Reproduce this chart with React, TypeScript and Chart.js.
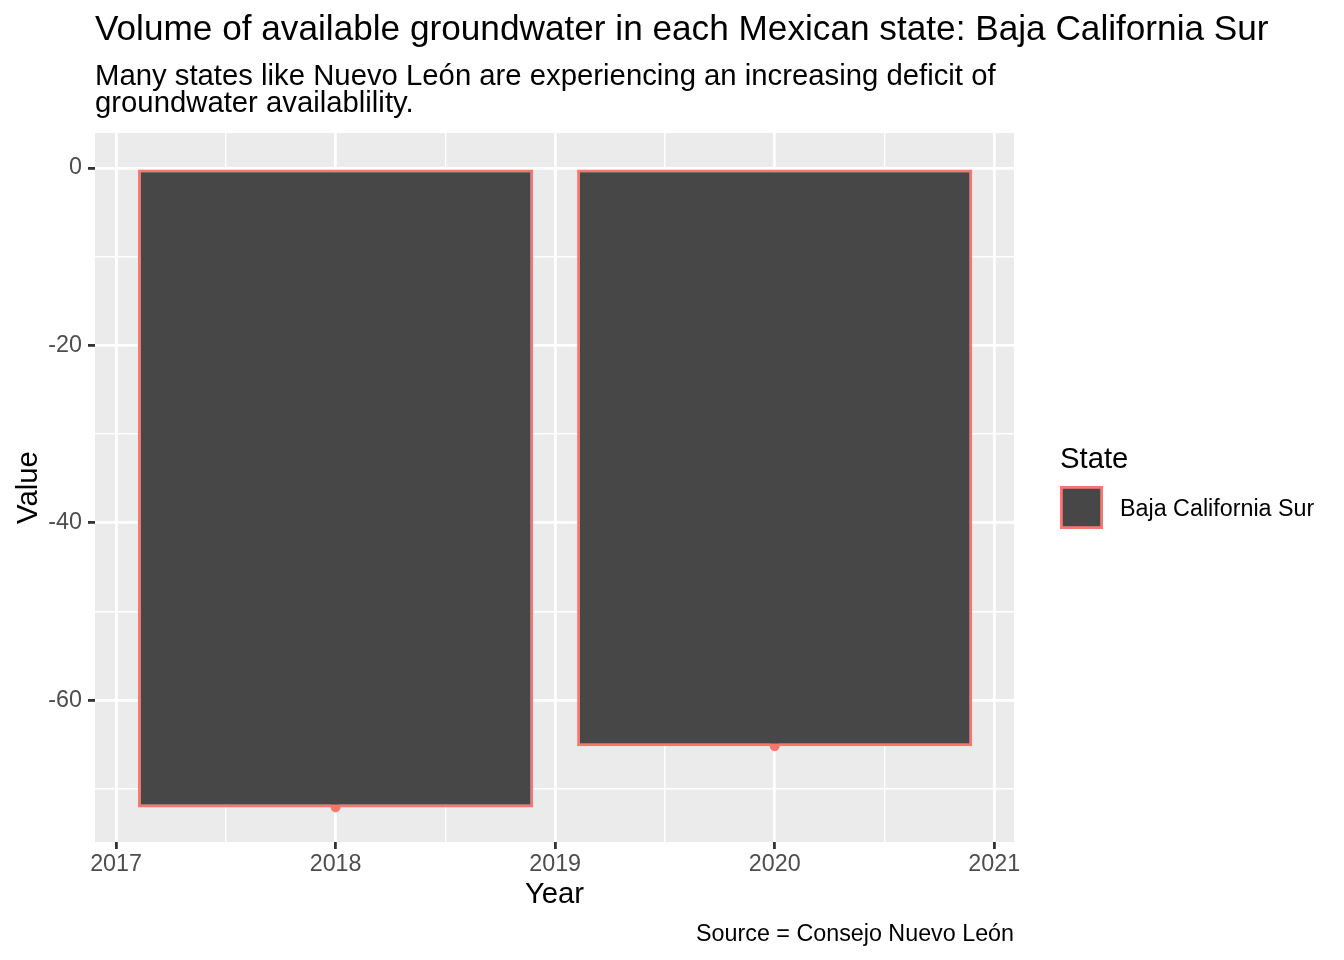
import React, { useEffect, useRef } from "react";
import { Chart, registerables } from "chart.js";

Chart.register(...registerables);

const years = [2018, 2020];
const values = [-72.1, -65.2];
const xTickValues = [2017, 2017.5, 2018, 2018.5, 2019, 2019.5, 2020, 2020.5, 2021];
const xTickLabels = ["2017", "2018", "2019", "2020", "2021"];
const yTickValues = [-70, -60, -50, -40, -30, -20, -10, 0];
const yTickLabels = ["-60", "-40", "-20", "0"];
const stateName = "Baja California Sur";

const TITLE = "Volume of available groundwater in each Mexican state: Baja California Sur";
const SUBTITLE = [
  "Many states like Nuevo León are experiencing an increasing deficit of",
  "groundwater availablility.",
];
const CAPTION = "Source = Consejo Nuevo León";

const FONT = "'Liberation Sans', Arial, Helvetica, sans-serif";
const FILL = "#474747";
const STROKE = "#F8766D";
const MAJOR_W = 2.8;
const MINOR_W = 1.4;

const tv = (c: any) => (c && c.tick ? Number(c.tick.value) : NaN);
const isMajorX = (v: number) => Number.isFinite(v) && Math.abs(v - Math.round(v)) < 1e-6;
const isMajorY = (v: number) => Number.isFinite(v) && Math.abs(v / 20 - Math.round(v / 20)) < 1e-6;

const decorPlugin = {
  id: "decor",
  beforeDraw(chart: any) {
    const { ctx, chartArea } = chart;
    ctx.save();
    ctx.fillStyle = "#FFFFFF";
    ctx.fillRect(0, 0, chart.width, chart.height);
    ctx.fillStyle = "#EBEBEB";
    ctx.fillRect(chartArea.left, chartArea.top, chartArea.right - chartArea.left, chartArea.bottom - chartArea.top);
    ctx.restore();
  },
  afterDraw(chart: any) {
    const { ctx, chartArea } = chart;
    ctx.save();
    ctx.fillStyle = "#000000";
    ctx.textBaseline = "alphabetic";
    ctx.textAlign = "left";
    ctx.font = `35.2px ${FONT}`;
    ctx.fillText(TITLE, chartArea.left, 40);
    ctx.font = `29.3px ${FONT}`;
    ctx.fillText(SUBTITLE[0], chartArea.left, 85);
    ctx.fillText(SUBTITLE[1], chartArea.left, 112);
    ctx.textAlign = "center";
    ctx.fillText("Year", (chartArea.left + chartArea.right) / 2, 903);
    ctx.save();
    ctx.translate(37, (chartArea.top + chartArea.bottom) / 2);
    ctx.rotate(-Math.PI / 2);
    ctx.fillText("Value", 0, 0);
    ctx.restore();
    ctx.textAlign = "left";
    ctx.fillText("State", 1060, 468);
    ctx.fillStyle = FILL;
    ctx.fillRect(1061.4, 487.4, 40.2, 40.2);
    ctx.strokeStyle = STROKE;
    ctx.lineWidth = 2.8;
    ctx.strokeRect(1061.4, 487.4, 40.2, 40.2);
    ctx.fillStyle = "#000000";
    ctx.font = `23.3px ${FONT}`;
    ctx.textBaseline = "alphabetic";
    ctx.fillText(stateName, 1120, 516);
    ctx.textAlign = "right";
    ctx.fillText(CAPTION, chartArea.right, 941);
    ctx.restore();
  },
};

export default function App() {
  const ref = useRef<HTMLCanvasElement | null>(null);
  useEffect(() => {
    document.body.style.margin = "0";
    const canvas = ref.current;
    if (!canvas) return;
    const chart = new Chart(canvas, {
      type: "bar",
      data: {
        datasets: [
          {
            type: "bar",
            label: stateName,
            data: years.map((y, i) => ({ x: y, y: values[i] })),
            backgroundColor: FILL,
            borderColor: STROKE,
            borderWidth: 2.8,
            borderSkipped: false,
            // ggplot width 0.9 of the 2-year data spacing = 3.6 half-year tick steps
            barPercentage: 3.6,
            categoryPercentage: 1.0,
            order: 0,
          } as any,
          {
            type: "scatter",
            label: stateName + " points",
            data: years.map((y, i) => ({ x: y, y: values[i] })),
            backgroundColor: STROKE,
            borderColor: STROKE,
            borderWidth: 1,
            pointRadius: 4.5,
            showLine: false,
            order: 1,
          } as any,
        ],
      },
      options: {
        responsive: false,
        animation: false,
        devicePixelRatio: 1,
        layout: { padding: { top: 133, right: 330, left: 0, bottom: 0 } },
        plugins: {
          legend: { display: false },
          title: { display: false },
          tooltip: { enabled: false },
        },
        scales: {
          x: {
            type: "linear",
            min: 2016.904,
            max: 2021.09,
            offset: false,
            afterBuildTicks: (s: any) => {
              s.ticks = xTickValues.map((v) => ({ value: v }));
            },
            afterFit: (s: any) => {
              s.height = 118;
            },
            border: { display: false },
            grid: {
              offset: false,
              color: "#FFFFFF",
              lineWidth: (c: any) => (isMajorX(tv(c)) ? MAJOR_W : MINOR_W),
              tickColor: (c: any) => (isMajorX(tv(c)) ? "#333333" : "rgba(0,0,0,0)"),
              tickWidth: MAJOR_W,
              tickLength: 7,
              drawTicks: true,
            },
            ticks: {
              autoSkip: false,
              maxRotation: 0,
              minRotation: 0,
              padding: 2,
              color: "#4D4D4D",
              font: { family: FONT, size: 23.3 },
              callback: (v: any) => {
                const n = Number(v);
                if (!isMajorX(n)) return "";
                const s = String(Math.round(n));
                return xTickLabels.includes(s) ? s : "";
              },
            },
          },
          y: {
            type: "linear",
            min: -76,
            max: 3.95,
            afterBuildTicks: (s: any) => {
              s.ticks = yTickValues.map((v) => ({ value: v }));
            },
            afterFit: (s: any) => {
              s.width = 95;
            },
            border: { display: false },
            grid: {
              color: "#FFFFFF",
              lineWidth: (c: any) => (isMajorY(tv(c)) ? MAJOR_W : MINOR_W),
              tickColor: (c: any) => (isMajorY(tv(c)) ? "#333333" : "rgba(0,0,0,0)"),
              tickWidth: MAJOR_W,
              tickLength: 7,
              drawTicks: true,
            },
            ticks: {
              autoSkip: false,
              padding: 6,
              color: "#4D4D4D",
              font: { family: FONT, size: 23.3 },
              callback: (v: any) => {
                const n = Number(v);
                if (!isMajorY(n)) return "";
                const s = String(Math.round(n));
                return yTickLabels.includes(s) ? s : "";
              },
            },
          },
        },
      },
      plugins: [decorPlugin],
    } as any);
    return () => chart.destroy();
  }, []);
  return (
    <div style={{ position: "fixed", left: 0, top: 0, width: 1344, height: 960 }}>
      <canvas ref={ref} width={1344} height={960} style={{ width: 1344, height: 960 }} />
    </div>
  );
}
